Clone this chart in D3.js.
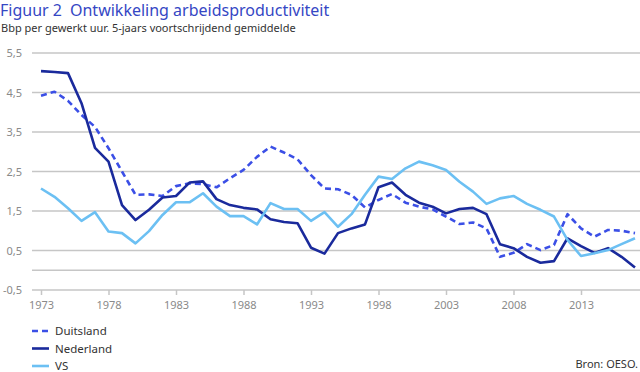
<!DOCTYPE html>
<html>
<head>
<meta charset="utf-8">
<script src="https://cdn.jsdelivr.net/npm/d3@7"></script>
<style>
  body { margin: 0; background: #fff; }
  svg { display: block; font-family: "Noto Sans", "Open Sans", sans-serif; }
</style>
</head>
<body>
<script>
// Chart data
const years = d3.range(1973, 2018);
const duitsland = [4.42, 4.52, 4.29, 3.93, 3.63, 3.09, 2.5, 1.91, 1.92, 1.88, 2.13, 2.2, 2.18, 2.1, 2.33,
  2.54, 2.87, 3.13, 2.98, 2.81, 2.41, 2.07, 2.05, 1.91, 1.59, 1.78, 1.93, 1.71, 1.61, 1.54,
  1.36, 1.17, 1.21, 1.06, 0.34, 0.44, 0.66, 0.51, 0.64, 1.42, 1.06, 0.85, 1.02, 1.0, 0.94];
const nederland = [5.04, 5.02, 4.99, 4.23, 3.1, 2.75, 1.65, 1.27, 1.53, 1.84, 1.88, 2.22, 2.25, 1.8, 1.65,
  1.58, 1.54, 1.29, 1.22, 1.19, 0.57, 0.42, 0.94, 1.06, 1.16, 2.1, 2.22, 1.91, 1.71, 1.61,
  1.44, 1.55, 1.58, 1.42, 0.66, 0.56, 0.34, 0.19, 0.23, 0.81, 0.61, 0.44, 0.56, 0.34, 0.07];
const vs = [2.07, 1.86, 1.57, 1.25, 1.47, 0.98, 0.94, 0.68, 0.99, 1.4, 1.72, 1.72, 1.95, 1.61, 1.37,
  1.37, 1.16, 1.7, 1.55, 1.55, 1.25, 1.47, 1.1, 1.42, 1.91, 2.37, 2.31, 2.58, 2.75, 2.66,
  2.54, 2.24, 1.99, 1.68, 1.82, 1.88, 1.68, 1.53, 1.36, 0.77, 0.36, 0.43, 0.51, 0.66, 0.81];
const yTicks = [5.5, 4.5, 3.5, 2.5, 1.5, 0.5, -0.5];
const xTicks = [1973, 1978, 1983, 1988, 1993, 1998, 2003, 2008, 2013];

const series = [
  { name: 'Duitsland', values: duitsland, color: '#3b4fe6', dash: '6,4' },
  { name: 'Nederland', values: nederland, color: '#1a2a9c', dash: null },
  { name: 'VS', values: vs, color: '#6cc0f3', dash: null }
];

const width = 640, height = 372;
const svg = d3.select('body').append('svg')
  .attr('width', width).attr('height', height);

// Scales
const x = d3.scaleLinear().domain([1973, 2017]).range([41, 635]);
const y = d3.scaleLinear().domain([-0.5, 5.5]).range([290, 53]);

// Title and subtitle
svg.append('text')
  .attr('x', 0).attr('y', 16)
  .attr('fill', '#3547c4')
  .style('font-size', '16px')
  .text('Figuur 2\u2002Ontwikkeling arbeidsproductiviteit');
svg.append('text')
  .attr('x', 1).attr('y', 31.5)
  .attr('fill', '#333')
  .style('font-size', '11px')
  .text('Bbp per gewerkt uur. 5-jaars voortschrijdend gemiddelde');

// Gridlines (incl. zero line)
const gridVals = yTicks.concat([0]);
svg.append('g')
  .selectAll('line')
  .data(gridVals)
  .join('line')
  .attr('x1', 32).attr('x2', 640)
  .attr('y1', (d) => y(d)).attr('y2', (d) => y(d))
  .attr('stroke', '#c6c6c6')
  .attr('stroke-width', 1.5);

// Y axis labels
const yAxis = svg.append('g')
  .attr('transform', 'translate(22,0)')
  .call(d3.axisLeft(y).tickValues(yTicks).tickSize(0)
    .tickFormat((d) => d3.format('.1f')(d).replace('.', ',').replace('−', '-')));
yAxis.select('.domain').remove();
yAxis.selectAll('text')
  .attr('fill', '#8a8a8a')
  .attr('x', 0)
  .style('font-size', '11px')
  .style('font-family', '"Noto Sans", sans-serif');

// X axis
const xAxis = svg.append('g')
  .attr('transform', `translate(0,${y(-0.5)})`)
  .call(d3.axisBottom(x).tickValues(xTicks).tickSize(5).tickPadding(6).tickFormat(d3.format('d')));
xAxis.select('.domain').remove();
xAxis.selectAll('line').attr('stroke', '#c6c6c6').attr('stroke-width', 1.5);
xAxis.selectAll('text')
  .attr('fill', '#8a8a8a')
  .style('font-size', '11px')
  .style('font-family', '"Noto Sans", sans-serif');

// Lines
const line = d3.line()
  .x((d, i) => x(years[i]))
  .y((d) => y(d));

svg.append('g')
  .selectAll('path')
  .data(series)
  .join('path')
  .attr('d', (d) => line(d.values))
  .attr('fill', 'none')
  .attr('stroke', (d) => d.color)
  .attr('stroke-width', 2.6)
  .attr('stroke-linejoin', 'round')
  .attr('stroke-dasharray', (d) => d.dash);

// Legend
const legend = svg.append('g')
  .selectAll('g')
  .data(series)
  .join('g')
  .attr('transform', (d, i) => `translate(32,${331 + i * 17.5})`);
legend.append('line')
  .attr('x1', 0).attr('x2', 17)
  .attr('stroke', (d) => d.color)
  .attr('stroke-width', 2.6)
  .attr('stroke-dasharray', (d) => d.dash);
legend.append('text')
  .attr('x', 23).attr('y', 4)
  .attr('fill', '#333')
  .style('font-size', '11.5px')
  .text((d) => d.name);

// Source
svg.append('text')
  .attr('x', 638).attr('y', 368)
  .attr('text-anchor', 'end')
  .attr('fill', '#333')
  .style('font-size', '11px')
  .text('Bron: OESO.');
</script>
</body>
</html>
